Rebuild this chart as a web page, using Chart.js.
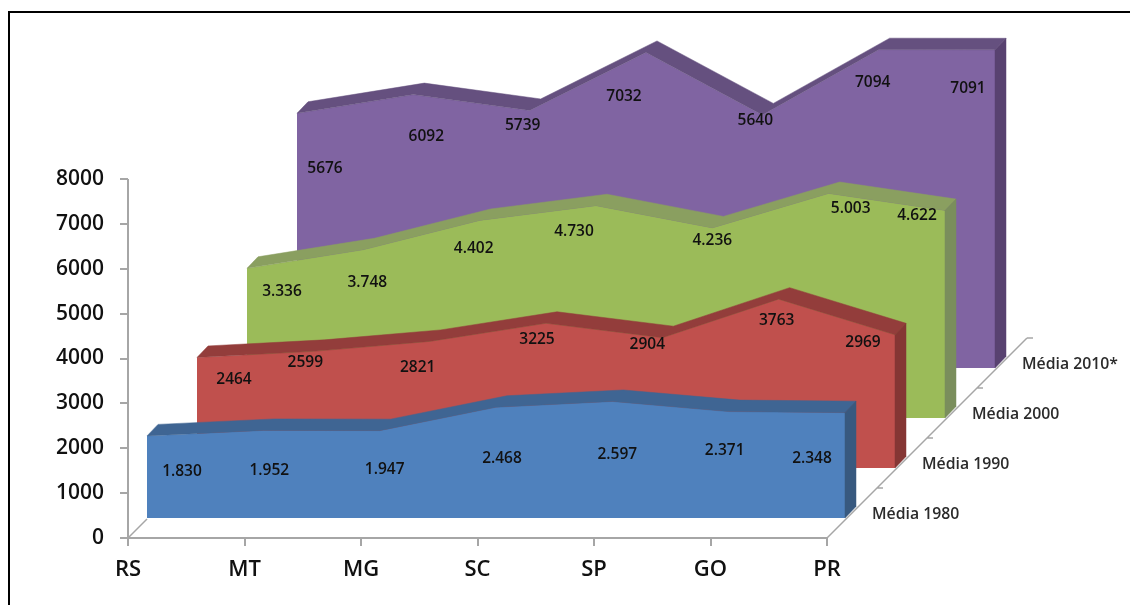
<!DOCTYPE html>
<html>
<head>
<meta charset="utf-8">
<title>Médias por estado</title>
<script src="https://cdn.jsdelivr.net/npm/chart.js@4/dist/chart.umd.js"></script>
<style>
    html, body { margin: 0; padding: 0; background: #fff; overflow: hidden; }
    #frame { position: absolute; left: 8px; top: 11px; right: 0; bottom: 0; border-top: 2px solid #000; border-left: 2px solid #000; }
    canvas { position: absolute; left: 0; top: 0; display: block; }
</style>
</head>
<body>
<div id="frame"></div>
<canvas id="mediaCanvas" width="1130" height="605"></canvas>
<script>
// Data
const states = ['RS', 'MT', 'MG', 'SC', 'SP', 'GO', 'PR'];
const yTicks = [0, 1000, 2000, 3000, 4000, 5000, 6000, 7000, 8000];

const seriesNames = ['Média 1980', 'Média 1990', 'Média 2000', 'Média 2010*'];
const media1980 = [1830, 1952, 1947, 2468, 2597, 2371, 2348];
const media1990 = [2464, 2599, 2821, 3225, 2904, 3763, 2969];
const media2000 = [3336, 3748, 4402, 4730, 4236, 5003, 4622];
const media2010 = [5676, 6092, 5739, 7032, 5640, 7094, 7091];
const seriesValues = [media1980, media1990, media2000, media2010];
const dottedLabels = [true, false, true, false];

// Colours per series: front, top and side faces
const frontColors = ['#4F81BD', '#C0504D', '#9BBB59', '#8064A2'];
const topColors = ['#3F6593', '#933D3B', '#8A9F60', '#65507F'];
const sideColors = ['#38597F', '#853634', '#7A8E5C', '#584270'];

// Label nudges from each data point, in pixels
const labelNudges = [
    [[35, 36], [6, 40], [5, 39], [6, 51], [5, 53], [-4, 39], [-33, 46]],
    [[37, 22], [-8, 11], [-12, 26], [-9, 16], [-15, 7], [-2, 21], [-32, 8]],
    [[35, 23], [4, 33], [-6, 28], [-22, 26], [0, 13], [22, 15], [-28, 5]],
    [[28, 55], [13, 42], [-7, 15], [-22, 44], [-7, 6], [-6, 33], [-27, 39]]
];

// Plot box and 3D layout. The box runs past the axes because the rows behind
// the front one reach further right and higher up.
const plotLeft = 128;
const plotRight = 1040;
const plotTop = 20;
const plotBottom = 538;
const axisStep = 116.5;
const pxPerUnit = 359 / 8000;
const rowStep = 50;         // shift from one row to the next one behind it
const frontX = 147;
const frontBottom = 518;
const xStep = 698 / 6;
const faceX = 11;           // thickness of the top and side faces
const faceY = -11.5;
const axisColor = '#A6A6A6';

const labelFont = '600 15.5px "Open Sans"';
const rowFont = '600 15.8px "Open Sans"';

// Every row gets its own hidden scales so the library maps it further back
const scales = {
    x: {
        type: 'linear',
        min: 0,
        max: (plotRight - plotLeft) / axisStep,
        afterFit(scale) {
            scale.height = 45;
            scale.paddingLeft = 0;
            scale.paddingRight = 0;
        },
        afterBuildTicks(scale) { scale.ticks = states.map((s, k) => ({ value: k })); },
        border: { display: false },
        grid: { drawOnChartArea: false, color: axisColor, tickLength: 8, lineWidth: 2 },
        ticks: { color: '#111', padding: 11, maxRotation: 0, autoSkip: false, callback: value => states[value], font: { family: 'Open Sans', size: 22, weight: '600' } }
    },
    y: {
        type: 'linear',
        min: 0,
        max: (plotBottom - plotTop) / pxPerUnit,
        afterFit(scale) {
            scale.width = plotLeft;
            scale.paddingTop = 0;
            scale.paddingBottom = 0;
        },
        afterBuildTicks(scale) { scale.ticks = yTicks.map(value => ({ value })); },
        border: { display: false },
        grid: { drawOnChartArea: false, color: axisColor, tickLength: 8, lineWidth: 2 },
        ticks: { color: '#111', padding: 16, callback: value => String(value), font: { family: 'Open Sans', size: 21, weight: '600' } }
    }
};

seriesValues.forEach((values, i) => {
    const left = frontX + rowStep * i;
    const bottom = frontBottom - rowStep * i;
    scales['x' + i] = {
        type: 'linear',
        display: false,
        min: (plotLeft - left) / xStep,
        max: (plotRight - left) / xStep
    };
    scales['y' + i] = {
        type: 'linear',
        display: false,
        min: -(plotBottom - bottom) / pxPerUnit,
        max: (bottom - plotTop) / pxPerUnit
    };
});

const datasets = seriesValues.map((values, i) => ({
    label: seriesNames[i],
    data: values.map((v, k) => ({ x: k, y: v })),
    xAxisID: 'x' + i,
    yAxisID: 'y' + i,
    backgroundColor: frontColors[i],
    borderWidth: 0,
    pointRadius: 0,
    tension: 0,
    clip: false,
    fill: 'origin'
}));

function polygon(ctx, points, color) {
    ctx.fillStyle = color;
    ctx.strokeStyle = color;
    ctx.lineWidth = 0.5;
    ctx.beginPath();
    points.forEach((p, k) => k ? ctx.lineTo(p[0], p[1]) : ctx.moveTo(p[0], p[1]));
    ctx.closePath();
    ctx.fill();
    ctx.stroke();
}

function dotted(value) {
    return String(value).replace(/(\d{3})$/, '.$1');
}

const depthPlugin = {
    id: 'depthPlugin',

    // Axis lines and the two floor edges running back
    beforeDatasetsDraw(chart) {
        const { ctx, scales: { x, y } } = chart;
        const zero = y.getPixelForValue(0);
        const corner = x.getPixelForValue(states.length - 1);
        const depth = frontX - plotLeft;
        ctx.save();
        ctx.strokeStyle = axisColor;
        ctx.lineWidth = 2;
        ctx.beginPath();
        ctx.moveTo(plotLeft, zero);
        ctx.lineTo(plotLeft, y.getPixelForValue(yTicks[yTicks.length - 1]));
        ctx.moveTo(plotLeft, zero);
        ctx.lineTo(corner, zero);
        ctx.stroke();
        ctx.lineWidth = 1.5;
        ctx.beginPath();
        ctx.moveTo(plotLeft, zero);
        ctx.lineTo(plotLeft + depth, zero - depth);
        ctx.moveTo(corner, zero);
        ctx.lineTo(corner + 200, zero - 200);
        seriesNames.forEach((name, i) => {
            const back = rowStep * (i + 1);
            ctx.moveTo(corner + back, zero - back);
            ctx.lineTo(corner + back + 6, zero - back);
        });
        ctx.stroke();
        ctx.restore();
    },

    // Top and right faces of each row
    afterDatasetDraw(chart, args) {
        const { ctx } = chart;
        const i = args.index;
        const meta = chart.getDatasetMeta(i);
        const front = meta.data.map(p => [p.x, p.y]);
        const back = front.map(p => [p[0] + faceX, p[1] + faceY]).reverse();
        const last = front[front.length - 1];
        const base = chart.scales['y' + i].getPixelForValue(0);
        ctx.save();
        polygon(ctx, front.concat(back), topColors[i]);
        polygon(ctx, [
            last,
            [last[0] + faceX, last[1] + faceY],
            [last[0] + faceX, base + faceY],
            [last[0], base]
        ], sideColors[i]);
        ctx.restore();
    },

    // Value labels and the row names next to the floor edge
    afterDatasetsDraw(chart) {
        const { ctx } = chart;
        ctx.save();
        ctx.textBaseline = 'middle';
        seriesValues.forEach((values, i) => {
            const meta = chart.getDatasetMeta(i);
            ctx.font = labelFont;
            ctx.textAlign = 'center';
            ctx.fillStyle = '#111';
            values.forEach((v, k) => {
                const text = dottedLabels[i] ? dotted(v) : String(v);
                const nudge = labelNudges[i][k];
                ctx.fillText(text, meta.data[k].x + nudge[0], meta.data[k].y + nudge[1]);
            });
            const lastPoint = meta.data[meta.data.length - 1];
            ctx.font = rowFont;
            ctx.textAlign = 'left';
            ctx.fillStyle = '#2b2b2b';
            ctx.fillText(seriesNames[i], lastPoint.x + 27, chart.scales['y' + i].getPixelForValue(0) - 4);
        });
        ctx.restore();
    }
};

new Chart(document.getElementById('mediaCanvas').getContext('2d'), {
    type: 'line',
    data: { labels: states, datasets: datasets },
    options: {
        responsive: false,
        animation: false,
        layout: {
            autoPadding: false,
            padding: { left: 0, top: plotTop, right: 1130 - plotRight, bottom: 605 - plotBottom - 45 }
        },
        scales: scales,
        plugins: {
            legend: { display: false },
            tooltip: { enabled: false }
        }
    },
    plugins: [depthPlugin]
});
</script>
</body>
</html>
